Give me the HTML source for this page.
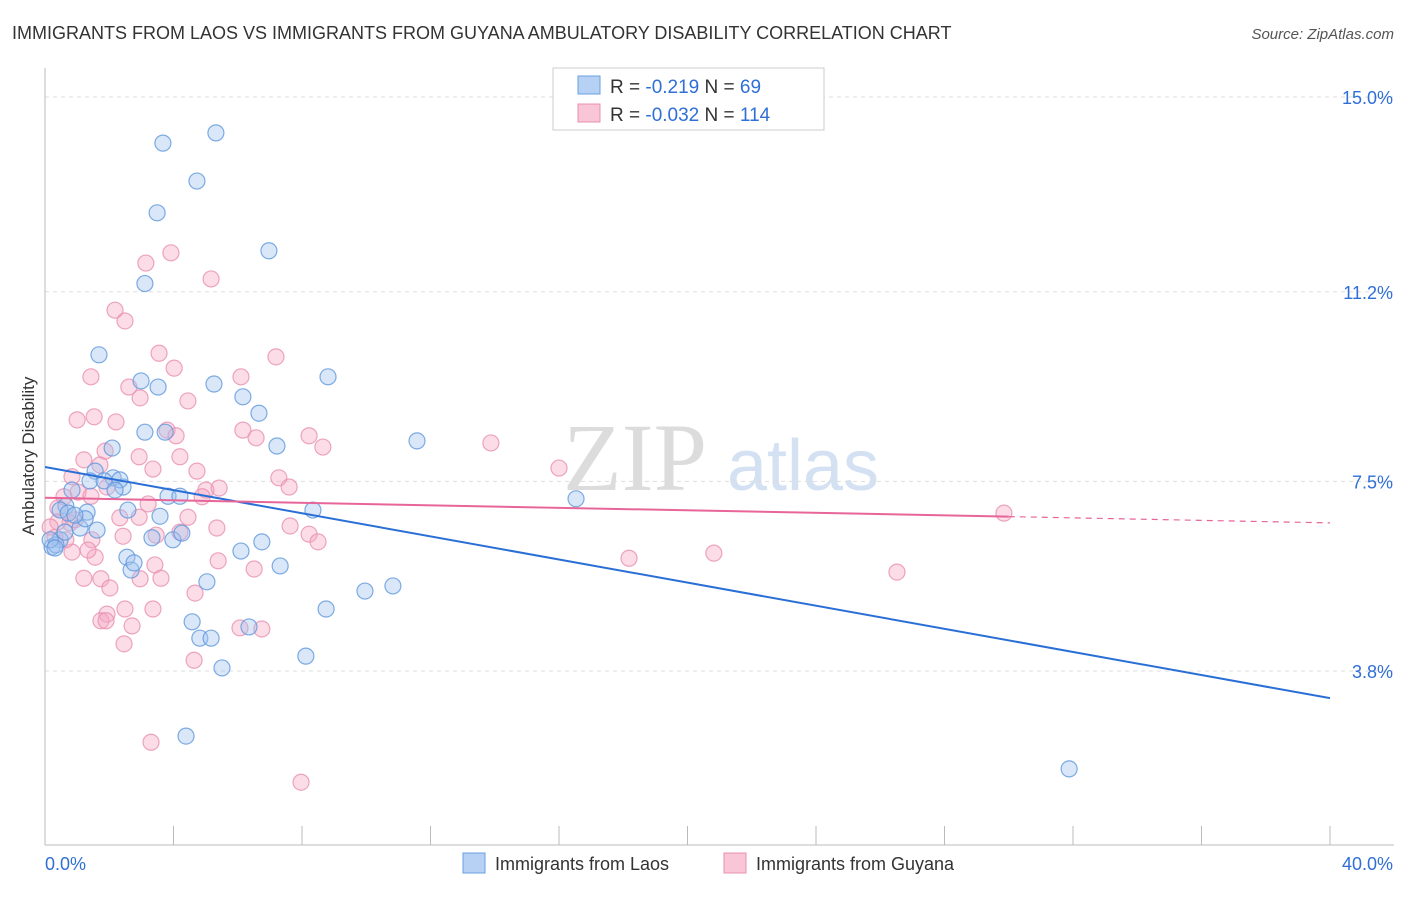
<!DOCTYPE html>
<html><head><meta charset="utf-8"><style>
body{margin:0;background:#fff;font-family:"Liberation Sans",sans-serif;}
</style></head><body>
<svg id="chart" width="1406" height="892" xmlns="http://www.w3.org/2000/svg" font-family="Liberation Sans, sans-serif">
<text x="12" y="39" font-size="18" fill="#333">IMMIGRANTS FROM LAOS VS IMMIGRANTS FROM GUYANA AMBULATORY DISABILITY CORRELATION CHART</text>
<text x="1394" y="39" font-size="15" fill="#555" text-anchor="end" font-style="italic">Source: ZipAtlas.com</text>
<text x="635" y="490" font-size="96" fill="#dcdcdc" text-anchor="middle" font-family="Liberation Serif, serif">ZIP</text>
<text x="803" y="490" font-size="72" fill="#d3e1f3" text-anchor="middle">atlas</text>
<g id="grid"></g>
<g id="axes"></g>
<text transform="translate(34,456) rotate(-90)" font-size="17" fill="#333" text-anchor="middle">Ambulatory Disability</text>
<g id="pts"></g>
<g id="trend"></g>
<g>
<rect x="553" y="68" width="271" height="62" fill="#fff" stroke="#ccc"/>
<rect x="578" y="76" width="22" height="18" fill="#b7d1f5" stroke="#6a9fe0"/>
<rect x="578" y="104" width="22" height="18" fill="#f8c6d6" stroke="#e890b0"/>
<text x="610" y="93" font-size="19" fill="#333">R = <tspan fill="#2f6fd6">-0.219</tspan>    N = <tspan fill="#2f6fd6"> 69</tspan></text>
<text x="610" y="121" font-size="19" fill="#333">R = <tspan fill="#2f6fd6">-0.032</tspan>    N = <tspan fill="#2f6fd6">114</tspan></text>
</g>
<g>
<rect x="463" y="853" width="22" height="20" fill="#b7d1f5" stroke="#6a9fe0"/>
<text x="495" y="870" font-size="18" fill="#333">Immigrants from Laos</text>
<rect x="724" y="853" width="22" height="20" fill="#f8c6d6" stroke="#e890b0"/>
<text x="756" y="870" font-size="18" fill="#333">Immigrants from Guyana</text>
</g>
</svg>
<script>
const yTicks=[15.0,11.2,7.5,3.8];
const yTickLabels=["15.0%","11.2%","7.5%","3.8%"];
const xTicks=[0,4,8,12,16,20,24,28,32,36,40];
const xEndLabels=["0.0%","40.0%"];
const blueX=[3.67,5.32,4.73,3.49,6.97,3.11,1.68,2.99,3.52,5.26,6.16,8.81,6.66,3.74,3.11,2.09,7.22,11.58,1.56,2.12,2.43,1.40,0.84,0.65,1.31,1.09,1.62,0.47,0.22,0.34,3.83,4.20,2.58,3.58,3.33,3.98,4.26,6.10,6.75,2.55,2.68,2.77,5.04,7.32,8.34,16.53,9.96,10.83,8.75,4.58,4.82,5.17,6.35,5.51,8.12,4.39,31.88,0.47,0.72,0.16,1.84,2.33,2.18,1.25,0.93,0.31,0.62];
const blueY=[14.10,14.30,13.36,12.74,12.00,11.36,9.97,9.46,9.34,9.40,9.15,9.54,8.83,8.46,8.46,8.15,8.19,8.29,7.70,7.57,7.39,7.51,7.33,7.02,6.90,6.59,6.55,6.36,6.22,6.26,7.21,7.21,6.94,6.82,6.40,6.36,6.49,6.14,6.32,6.02,5.77,5.91,5.54,5.85,6.94,7.16,5.36,5.46,5.01,4.76,4.44,4.44,4.66,3.86,4.09,2.53,1.89,6.94,6.88,6.36,7.51,7.53,7.33,6.77,6.84,6.20,6.51];
const pinkX=[3.92,3.14,5.17,2.18,2.49,3.55,7.19,1.43,4.02,6.10,2.61,2.96,4.45,1.00,1.53,2.21,3.80,4.08,6.16,6.57,8.22,8.65,13.88,1.87,2.93,4.20,16.00,1.21,1.71,3.36,4.73,7.28,7.60,0.84,1.93,1.03,1.43,5.01,5.42,4.89,3.21,2.33,2.93,4.45,0.59,0.40,0.78,7.63,5.35,4.20,3.46,8.22,8.50,29.85,18.18,20.82,26.52,0.40,0.31,0.84,1.46,1.56,1.34,2.43,3.42,3.61,2.96,5.39,6.51,1.21,1.74,2.02,4.67,2.49,3.36,1.93,1.74,1.90,2.71,6.07,6.75,2.46,4.64,3.30,7.97,0.16,0.65,0.93];
const pinkY=[11.96,11.76,11.45,10.84,10.63,10.00,9.93,9.54,9.71,9.54,9.34,9.13,9.07,8.70,8.76,8.66,8.50,8.39,8.50,8.35,8.39,8.17,8.25,8.09,7.98,7.98,7.76,7.92,7.82,7.74,7.70,7.57,7.39,7.59,7.39,7.29,7.21,7.33,7.37,7.20,7.06,6.79,6.80,6.80,7.20,6.98,6.69,6.63,6.59,6.51,6.45,6.47,6.32,6.88,6.00,6.10,5.73,6.71,6.41,6.12,6.36,6.02,6.16,6.43,5.87,5.61,5.60,5.95,5.79,5.61,5.60,5.42,5.32,5.01,5.01,4.91,4.78,4.78,4.68,4.64,4.62,4.33,4.01,2.41,1.63,6.61,6.36,6.75];
const blueTrend=[7.78,3.27];
const pinkTrend=[7.18,6.69];
const pinkSolidEnd=30;
const X=v=>45+v*32.125, Y=v=>97+(15-v)*51.25;
const NS="http://www.w3.org/2000/svg";
function mk(t,a,p){const e=document.createElementNS(NS,t);for(const k in a)e.setAttribute(k,a[k]);p.appendChild(e);return e;}
const grid=document.getElementById('grid'),axes=document.getElementById('axes');
yTicks.forEach((v,i)=>{
 const l=mk('line',{x1:45,x2:1394,y1:Y(v),y2:Y(v),stroke:'#ddd','stroke-dasharray':'4,4'},grid);
 
 
 const t=mk('text',{x:1393,y:Y(v)+7,'font-size':18,fill:'#2f6fd6','text-anchor':'end'},axes);
 t.textContent=yTickLabels[i];
 
 
});
mk('line',{x1:45,x2:45,y1:68,y2:845,stroke:'#bbb'},axes);
mk('line',{x1:45,x2:1394,y1:845,y2:845,stroke:'#bbb'},axes);
xTicks.forEach(v=>{const l=mk('line',{x1:X(v),x2:X(v),y1:826,y2:845,stroke:'#bbb'},axes);
 
 });
[[0,45,'start'],[40,1393,'end']].forEach((a,i)=>{const t=mk('text',{x:a[1],y:870,'font-size':18,fill:'#2f6fd6','text-anchor':a[2]},axes);t.textContent=xEndLabels[i];
 
 });
const pts=document.getElementById('pts');
function series(xs,ys,fill,stroke,name){for(let i=0;i<Math.min(xs.length,ys.length);i++){
 const c=mk('circle',{cx:X(xs[i]),cy:Y(ys[i]),r:8,fill:fill,'fill-opacity':0.4,stroke:stroke,'stroke-opacity':0.8,'stroke-width':1.2},pts);
 
 }}
series(pinkX,pinkY,'#f4a8c2','#e890b0','guyana-point');
series(blueX,blueY,'#9fc3f0','#5f97dc','laos-point');
const tr=document.getElementById('trend');
const bl=mk('line',{x1:X(0),y1:Y(blueTrend[0]),x2:X(40),y2:Y(blueTrend[1]),stroke:'#2a6fd6','stroke-width':2},tr);


const pv=x=>pinkTrend[0]+(pinkTrend[1]-pinkTrend[0])*x/40;
const pl=mk('line',{x1:X(0),y1:Y(pv(0)),x2:X(pinkSolidEnd),y2:Y(pv(pinkSolidEnd)),stroke:'#e8659a','stroke-width':2},tr);


const pd=mk('line',{x1:X(pinkSolidEnd),y1:Y(pv(pinkSolidEnd)),x2:X(40),y2:Y(pv(40)),stroke:'#e8659a','stroke-width':1.2,'stroke-dasharray':'6,5'},tr);


</script>
</body></html>
